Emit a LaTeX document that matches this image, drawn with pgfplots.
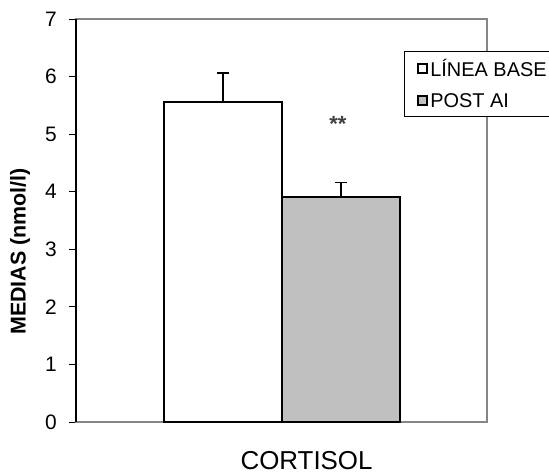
\documentclass[border=0pt]{standalone}
\usepackage{pgfplots}
\pgfplotsset{compat=1.18}
\usepackage{fontspec}
\setmainfont{Liberation Sans}
\definecolor{barGray}{RGB}{192,192,192}
\definecolor{frameGray}{RGB}{134,134,134}
\begin{document}
\begin{tikzpicture}
\begin{axis}[
  name=ax, at={(0,0)}, anchor=south west,
  scale only axis, width=411bp, height=403bp,
  xmin=0, xmax=1, ymin=0, ymax=7,
  ytick={0,1,...,7}, xtick=\empty,
  tick align=outside, major tick length=7bp,
  ytick pos=left,
  tick style={black, line width=1pt},
  axis line style={frameGray, line width=1.3pt},
  /pgf/number format/assume math mode=true,
  tick label style={font=\fontsize{21}{23}\selectfont},
  yticklabel style={inner sep=0pt, anchor=east, xshift=-12bp},
  ylabel={\textbf{MEDIAS (nmol/l)}},
  every axis y label/.style={at={(rel axis cs:0,0.423)}, xshift=-56bp, rotate=90, anchor=center, font=\fontsize{21.5}{23}\selectfont},
  clip=false,
  legend style={at={(rel axis cs:0.798,0.9206)}, anchor=north west, draw=black, line width=0.8pt,
    font=\fontsize{20}{22}\selectfont, inner xsep=2bp, inner ysep=6bp, row sep=11bp, cells={anchor=west}},
  legend image code/.code={\path[draw=none, fill=none] (0bp,0bp) rectangle (22bp,0.1bp); \draw[#1, line width=2bp, draw=black] (12bp,-4.5bp) rectangle (21bp,4.5bp);},
]
\addplot[ybar, bar width=118bp, bar shift=0pt, draw=black, line width=1.7bp, fill=white,
  error bars/.cd, y dir=plus, y explicit, error bar style={line width=1.7bp, black}, error mark options={line width=1.7bp, mark size=6bp, rotate=90}]
  coordinates {(0.3578,5.56) +- (0,0.50)};
\addlegendentry{LÍNEA BASE}
\addplot[ybar, bar width=118bp, bar shift=0pt, draw=black, line width=1.7bp, fill=barGray,
  error bars/.cd, y dir=plus, y explicit, error bar style={line width=1.7bp, black}, error mark options={line width=1.7bp, mark size=6bp, rotate=90}]
  coordinates {(0.6448,3.91) +- (0,0.25)};
\addlegendentry{POST AI}
\draw[black, line width=1.3pt] (rel axis cs:0,0) -- (rel axis cs:0,1);
\node[font=\fontsize{22}{24}\selectfont\bfseries, text=black!75] at (axis cs:0.637,5.17) {**};
\node[anchor=base, font=\fontsize{26}{28}\selectfont] at ([yshift=-47bp]rel axis cs:0.561,0) {CORTISOL};
\end{axis}
\pgfresetboundingbox
\path[use as bounding box] (-76bp,-52bp) rectangle (473bp,422bp);
\end{tikzpicture}
\end{document}
